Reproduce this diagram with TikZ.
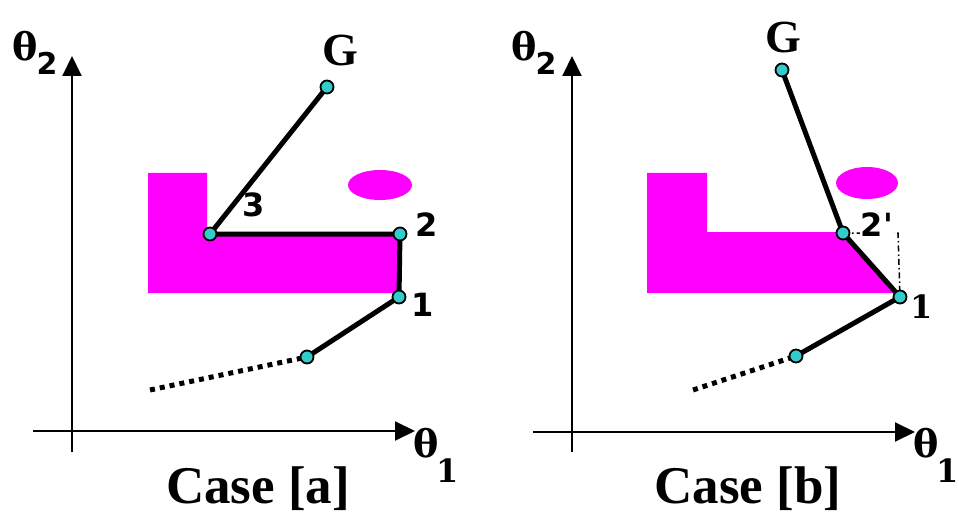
\documentclass[tikz,border=0pt]{standalone}
\usepackage{fontspec}
\setmainfont{Liberation Serif}
\newfontfamily\dvs{DejaVu Sans}
\newfontfamily\dvserif{DejaVu Serif}
\usetikzlibrary{arrows.meta}
\definecolor{mag}{RGB}{255,0,255}
\definecolor{dotc}{RGB}{51,204,204}
\newcommand{\subtwo}{\raisebox{-14pt}{\dvs\bfseries\fontsize{30}{30}\selectfont 2}}
\newcommand{\subone}{\raisebox{-25pt}{\dvserif\bfseries\fontsize{32}{32}\selectfont 1}}
\begin{document}
\begin{tikzpicture}[x=1pt,y=-1pt,
  axis/.style={line width=2pt,-{Triangle[length=20pt,width=19pt]}},
  link/.style={line width=5pt,line cap=round},
  trail/.style={line width=5pt,dash pattern=on 5pt off 5pt},
  guide/.style={line width=1.5pt,dash pattern=on 6pt off 3pt on 1.5pt off 3pt},
  joint/.style={circle,draw=black,line width=1.8pt,fill=dotc,minimum size=13pt,inner sep=0pt},
  obst/.style={fill=mag},
  axlbl/.style={anchor=base west,inner sep=0pt,font=\dvserif\fontsize{38}{38}\selectfont\bfseries},
  goal/.style={inner sep=0pt,font=\fontsize{46}{46}\selectfont\bfseries},
  num/.style={inner sep=0pt,font=\dvs\fontsize{32}{32}\selectfont\bfseries},
  snum/.style={inner sep=0pt,font=\dvserif\fontsize{32}{32}\selectfont\bfseries},
  caption/.style={anchor=base,inner sep=0pt,font=\fontsize{53}{53}\selectfont\bfseries}]
\useasboundingbox (0,0) rectangle (959,516);

% ---------------- Case [a] ----------------
\coordinate (ayb) at (72,452); \coordinate (ayt) at (72,56);
\coordinate (axl) at (33,431); \coordinate (axr) at (415,431);
\draw[axis] (ayb) -- (ayt);
\draw[axis] (axl) -- (axr);
\node[axlbl] (aty) at (12,61) {θ\kern-1pt\subtwo};
\node[axlbl] (atx) at (413,457) {θ\kern-2pt\subone};

\fill[obst] (148,173) -- (207,173) -- (207,233) -- (398,233) -- (398,293) -- (148,293) -- cycle;
\fill[obst] (380,185) ellipse [x radius=32, y radius=15];

\coordinate (as) at (150,390);
\coordinate (a0) at (307,357);
\coordinate (a1) at (399,297);
\coordinate (a2) at (400,234);
\coordinate (a3) at (210,234);
\coordinate (ag) at (327,87);
\draw[trail] (as) -- (a0);
\draw[link] (a0) -- (a1) -- (a2) -- (a3) -- (ag);
\foreach \p in {a0,a1,a2,a3,ag} \node[joint] at (\p) {};
\node[num] (al1) at (423,305) {1};
\node[num] (al2) at (427,225) {2};
\node[num] (al3) at (254,205) {3};
\node[goal] (alg) at (340,50) {G};
\node[caption] (capa) at (258,503) {Case [a]};

% ---------------- Case [b] ----------------
\coordinate (byb) at (572,452); \coordinate (byt) at (572,56);
\coordinate (bxl) at (533,432); \coordinate (bxr) at (915,432);
\draw[axis] (byb) -- (byt);
\draw[axis] (bxl) -- (bxr);
\node[axlbl] (bty) at (511,61) {θ\kern-1pt\subtwo};
\node[axlbl] (btx) at (913,457) {θ\kern-2pt\subone};

\fill[obst] (647,173) -- (707,173) -- (707,232) -- (838,232) -- (898,293) -- (647,293) -- cycle;
\fill[obst] (867,183) ellipse [x radius=31, y radius=16];

\coordinate (bs) at (693,390);
\coordinate (b0) at (796,356);
\coordinate (b1) at (900,297);
\coordinate (b2) at (843,233);
\coordinate (bc) at (898,233);
\coordinate (bg) at (782,70);
\draw[guide] (b2) -- (bc) -- (b1);
\draw[trail] (bs) -- (b0);
\draw[link] (b0) -- (b1) -- (b2) -- (bg);
\foreach \p in {b0,b1,b2,bg} \node[joint] at (\p) {};
\node[snum] (bl1) at (922,307) {1};
\node[num,fill=white,inner sep=1pt] (bl2) at (877,225) {2'};
\node[goal] (blg) at (783,37) {G};
\node[caption] (capb) at (748,503) {Case [b]};
\end{tikzpicture}
\end{document}
